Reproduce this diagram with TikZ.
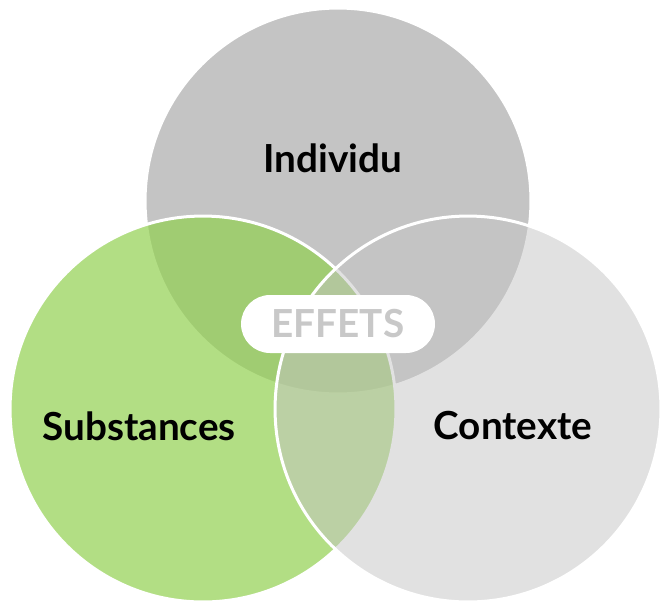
\documentclass[tikz,border=0pt]{standalone}
\usepackage{fontspec}
\setmainfont{Lato}
\definecolor{venngray}{RGB}{196,196,196}
\definecolor{venngreen}{RGB}{146,208,80}
\definecolor{effetgray}{RGB}{200,200,200}
\begin{document}
\begin{tikzpicture}[x=0.02cm, y=-0.02cm,
        set/.style={circle, inner sep=0pt, minimum size=7.72cm, draw=white, line width=0.06cm},
        settext/.style={font=\fontsize{22}{26}\selectfont\bfseries},
        pill/.style={fill=white, rounded corners=0.58cm, minimum width=3.88cm, minimum height=1.16cm, text=effetgray}]
    \useasboundingbox (0,0) rectangle (661,605);

    % the three overlapping sets
    \node[set, fill=venngray] (I) at (338,201) {};
    \node[set, fill=venngreen, fill opacity=0.7] (S) at (203,409) {};
    \node[set, fill=venngray, fill opacity=0.5] (C) at (468,409) {};

    \node[settext] (tI) at (333,158) {Individu};
    \node[settext] (tS) at (139,426) {Substances};
    \node[settext] (tC) at (513,426) {Contexte};

    % centre tag
    \node[pill, settext] (E) at (338,324) {EFFETS};
\end{tikzpicture}
\end{document}
